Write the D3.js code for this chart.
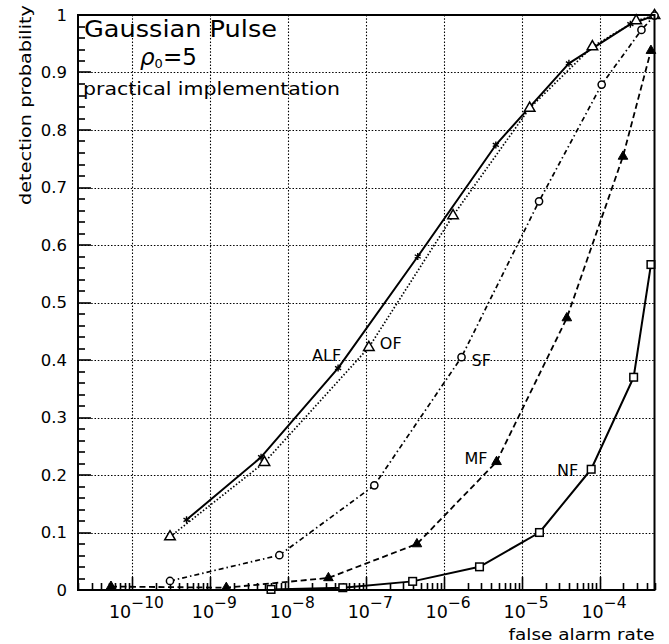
<!DOCTYPE html>
<html><head><meta charset="utf-8">
<script src="https://cdn.jsdelivr.net/npm/d3@7"></script>
<style>body{margin:0;background:#fff}svg{display:block}</style>
</head><body>
<svg id="chart" width="669" height="644"></svg>
<script>
// ---- data ----
const alfX = [4.94e-10, 4.47e-9, 4.35e-8, 4.58e-7, 4.6e-6, 3.99e-5, 2.45e-4, 5e-4];
const alfY = [0.122, 0.231, 0.386, 0.580, 0.774, 0.916, 0.984, 0.999];
const ofX  = [3.03e-10, 4.94e-9, 1.08e-7, 1.30e-6, 1.25e-5, 7.98e-5, 2.91e-4, 5e-4];
const ofY  = [0.0925, 0.222, 0.422, 0.651, 0.838, 0.945, 0.990, 0.999];
const sfX  = [3.03e-10, 7.67e-9, 1.27e-7, 1.67e-6, 1.65e-5, 1.05e-4, 3.4e-4, 5e-4];
const sfY  = [0.0157, 0.0605, 0.182, 0.405, 0.676, 0.879, 0.974, 0.999];
const mfX  = [5.3e-11, 1.6e-9, 3.27e-8, 4.47e-7, 4.7e-6, 3.75e-5, 1.97e-4, 4.5e-4];
const mfY  = [0.006, 0.004, 0.021, 0.080, 0.223, 0.473, 0.754, 0.938];
const nfX  = [6e-9, 5e-8, 3.94e-7, 2.84e-6, 1.67e-5, 7.7e-5, 2.7e-4, 4.5e-4];
const nfY  = [0.001, 0.004, 0.0150, 0.0403, 0.100, 0.210, 0.370, 0.566];
const seriesNames = ["ALF", "OF", "SF", "MF", "NF"];
const xTickExps = [-10, -9, -8, -7, -6, -5, -4];
const yTickValues = [0, 0.1, 0.2, 0.3, 0.4, 0.5, 0.6, 0.7, 0.8, 0.9, 1];
const yTickLabels = ["0", "0.1", "0.2", "0.3", "0.4", "0.5", "0.6", "0.7", "0.8", "0.9", "1"];
const titleLines = ["Gaussian Pulse", "practical implementation"];
const xTitle = "false alarm rate";
const yTitle = "detection probability";

// ---- layout ----
const L = 78, R = 654.5, T = 15, B = 590;
const FONT = "'DejaVu Sans', sans-serif";
const svg = d3.select("#chart");
const x = d3.scaleLog().domain([2e-11, 5e-4]).range([L, R]);
const y = d3.scaleLinear().domain([0, 1]).range([B, T]);
const px = v => Math.round(v) + 0.5;

svg.append("defs").append("clipPath").attr("id", "clip")
  .append("rect").attr("x", L).attr("y", T).attr("width", R - L).attr("height", B - T);

// grid (dotted): vertical at decades, horizontal at 0.1 steps
let gv = "", gh = "";
xTickExps.forEach(e => { const gx = px(x(Math.pow(10, e))); gv += `M${gx},${T}V${B}`; });
yTickValues.filter(v => v > 0 && v < 1).forEach(v => { const gy = px(y(v)); gh += `M${L},${gy}H${R}`; });
[gv, gh].forEach(d => svg.append("path").attr("d", d).attr("fill", "none")
  .attr("stroke", "#000").attr("stroke-width", 1.1).attr("stroke-dasharray", "1.5,1.8"));

// bottom ticks (log decades + 2..9)
let tb = "";
for (let e = -11; e <= -4; e++) for (let m = 1; m <= 9; m++) {
  const v = m * Math.pow(10, e);
  if (v < 2e-11 || v > 5e-4) continue;
  const tx = px(x(v));
  tb += `M${tx},${B}V${B - (m === 1 ? 13 : 7)}`;
}
svg.append("path").attr("d", tb).attr("fill", "none").attr("stroke", "#000").attr("stroke-width", 1.6);
// left ticks (every 0.02), as thin filled bars
svg.append("g").selectAll("rect").data(d3.range(0, 51)).join("rect")
  .attr("x", L).attr("y", i => Math.round(y(i / 50)) - 0.8)
  .attr("width", i => (i % 5 === 0 ? 13 : 7)).attr("height", 1.6)
  .attr("fill", "#000");

// series
const lineGen = d3.line().x(d => x(d[0])).y(d => y(d[1]));
const zip = (a, b) => a.map((v, i) => [v, b[i]]);
const series = [
  {name: "ALF", pts: zip(alfX, alfY), dash: null, w: 2},
  {name: "OF",  pts: zip(ofX, ofY),   dash: "1.5,2", w: 1.7},
  {name: "SF",  pts: zip(sfX, sfY),   dash: "5,3,1.5,3", w: 1.7},
  {name: "MF",  pts: zip(mfX, mfY),   dash: "6,3.5", w: 1.8},
  {name: "NF",  pts: zip(nfX, nfY),   dash: null, w: 2}
];
const lines = svg.append("g").attr("clip-path", "url(#clip)");
series.forEach(s => {
  lines.append("path").attr("d", lineGen(s.pts)).attr("fill", "none")
    .attr("stroke", "#000").attr("stroke-width", s.w)
    .attr("stroke-dasharray", s.dash).attr("stroke-linejoin", "round");
});

// markers
const mk = svg.append("g");
const at = d => `translate(${x(d[0])},${y(d[1])})`;
mk.selectAll("path.alf").data(series[0].pts).join("path")
  .attr("transform", at).attr("d", d3.symbol(d3.symbolAsterisk, 34)())
  .attr("fill", "none").attr("stroke", "#000").attr("stroke-width", 1.4);
mk.selectAll("path.of").data(series[1].pts).join("path")
  .attr("transform", at).attr("d", d3.symbol(d3.symbolTriangle, 48)())
  .attr("fill", "#fff").attr("stroke", "#000").attr("stroke-width", 1.5);
mk.selectAll("circle.sf").data(series[2].pts).join("circle")
  .attr("cx", d => x(d[0])).attr("cy", d => y(d[1])).attr("r", 3.6)
  .attr("fill", "#fff").attr("stroke", "#000").attr("stroke-width", 1.5);
mk.selectAll("path.mf").data(series[3].pts).join("path")
  .attr("transform", at).attr("d", d3.symbol(d3.symbolTriangle, 40)())
  .attr("fill", "#000").attr("stroke", "#000").attr("stroke-width", 1);
mk.selectAll("rect.nf").data(series[4].pts).join("rect")
  .attr("x", d => x(d[0]) - 3.8).attr("y", d => y(d[1]) - 3.8)
  .attr("width", 7.6).attr("height", 7.6)
  .attr("fill", "#fff").attr("stroke", "#000").attr("stroke-width", 1.5);

// frame
svg.append("rect").attr("x", L).attr("y", T).attr("width", R - L).attr("height", B - T)
  .attr("fill", "none").attr("stroke", "#000").attr("stroke-width", 2);

// series labels (placed next to one of each curve's points)
const labelSpec = [
  {i: 0, idx: 2, dx: 3, dy: -7, anchor: "end"},
  {i: 1, idx: 2, dx: 11, dy: 2, anchor: "start"},
  {i: 2, idx: 3, dx: 10, dy: 8.5, anchor: "start"},
  {i: 3, idx: 4, dx: -9, dy: 2, anchor: "end"},
  {i: 4, idx: 5, dx: -13, dy: 6.5, anchor: "end"}
];
labelSpec.forEach(l => {
  const p = series[l.i].pts[l.idx];
  svg.append("text").attr("x", x(p[0]) + l.dx).attr("y", y(p[1]) + l.dy)
    .attr("text-anchor", l.anchor).attr("font-family", FONT).attr("font-size", 16)
    .text(seriesNames[l.i]);
});

// y tick labels
svg.append("g").selectAll("text").data(yTickValues).join("text")
  .attr("x", 67).attr("y", d => y(d)).attr("dy", "0.36em")
  .attr("text-anchor", "end").attr("font-family", FONT).attr("font-size", 16.5)
  .text((d, i) => yTickLabels[i]);

// x tick labels 10^e
const xl = svg.append("g").selectAll("text").data(xTickExps).join("text")
  .attr("x", d => x(Math.pow(10, d)) + 4).attr("y", 618)
  .attr("text-anchor", "middle").attr("font-family", FONT).attr("font-size", 17.5);
xl.append("tspan").text("10");
xl.append("tspan").attr("dy", -10).attr("font-size", 15.5).text(d => "\u2212" + Math.abs(d));

// axis titles
svg.append("text").attr("x", R).attr("y", 640).attr("text-anchor", "end")
  .attr("font-family", FONT).attr("font-size", 15.5)
  .attr("textLength", 146).attr("lengthAdjust", "spacingAndGlyphs").text(xTitle);
svg.append("text").attr("transform", "translate(31,5) rotate(-90)")
  .attr("text-anchor", "end").attr("font-family", FONT).attr("font-size", 15.5)
  .attr("textLength", 200).attr("lengthAdjust", "spacingAndGlyphs").text(yTitle);

// in-plot title text
svg.append("text").attr("x", 84).attr("y", 37).attr("font-family", FONT).attr("font-size", 23)
  .attr("textLength", 193).attr("lengthAdjust", "spacingAndGlyphs").text(titleLines[0]);
const rho = svg.append("text").attr("x", 140).attr("y", 65).attr("font-family", FONT).attr("font-size", 23);
rho.append("tspan").attr("font-style", "italic").text("\u03C1");
rho.append("tspan").attr("font-size", 13).attr("dy", 3).text("0");
rho.append("tspan").attr("dy", -3).text("=5");
svg.append("text").attr("x", 83).attr("y", 94.5).attr("font-family", FONT).attr("font-size", 17)
  .attr("textLength", 257).attr("lengthAdjust", "spacingAndGlyphs").text(titleLines[1]);
</script>
</body></html>
